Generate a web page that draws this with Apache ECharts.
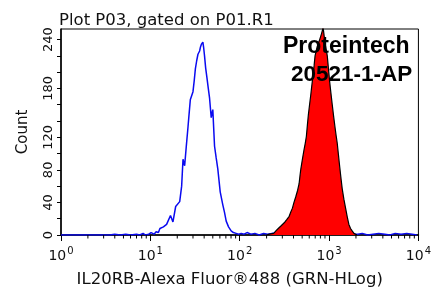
<!DOCTYPE html>
<html>
<head>
<meta charset="utf-8">
<script src="https://cdn.jsdelivr.net/npm/echarts@6/dist/echarts.min.js"></script>
<style>
  html, body { margin: 0; padding: 0; background: #fff; }
  #main { width: 434px; height: 293px; }
</style>
</head>
<body>
<div id="main"></div>
<script>
// isotype control (blue outline), [fluorescence, count]
var controlCounts = [
  [1, 0], [3.5, 0], [4, 1], [4.6, 0], [5.3, 1], [6, 0], [7, 1], [7.6, 0],
  [8.3, 2], [8.8, 0], [9.6, 1], [10.2, 3], [11, 1], [11.6, 4], [12.3, 3],
  [12.8, 8], [14, 10], [15.2, 13], [15.8, 15], [16.8, 24], [17.9, 16],
  [19.2, 35], [21.3, 41], [22.4, 60], [23.2, 93], [24.2, 85], [25.3, 110],
  [26.4, 133], [27.2, 150], [28, 166], [30, 176], [31, 190], [31.9, 204],
  [33, 214], [34.1, 222], [35.6, 226], [36.4, 231], [37.2, 234],
  [38.7, 237], [39.5, 230], [40.4, 220], [41.6, 205], [42.9, 194],
  [44.5, 180], [46, 168], [48, 144], [49, 150], [50, 154], [52.3, 109],
  [54.5, 95], [56.9, 81], [60.5, 53], [64.7, 37], [67.5, 28], [70.6, 17],
  [75, 10], [80.2, 5], [85, 3], [91.2, 2], [97, 1], [104, 2], [112, 1],
  [121, 3], [133, 1], [148, 2], [165, 0], [185, 2], [205, 1], [230, 2],
  [2100, 1], [2350, 2], [2700, 0], [3100, 1], [3600, 2], [4200, 1],
  [4800, 0], [5500, 2], [6400, 1], [7400, 2], [8500, 1], [9600, 0]
];

// IL20RB stained sample (red filled)
var sampleCounts = [
  [200, 0], [215, 1], [224, 0], [240, 2], [254, 5], [270, 8], [289, 11],
  [302, 13], [315, 15], [336, 19], [358, 23], [372, 28], [389, 33],
  [405, 40], [424, 47], [445, 55], [462, 63], [472, 72], [483, 81],
  [503, 93], [525, 105], [540, 112], [557, 121], [572, 135], [587, 148],
  [605, 160], [624, 172], [642, 184], [662, 196], [680, 208], [697, 220],
  [718, 226], [739, 232], [762, 236], [785, 240], [806, 244], [827, 248],
  [845, 252], [855, 256], [878, 246], [900, 236], [928, 228], [955, 220],
  [985, 204], [1016, 188], [1050, 174], [1086, 160], [1124, 146],
  [1164, 133], [1200, 122], [1234, 113], [1272, 99], [1312, 85],
  [1355, 71], [1403, 57], [1465, 44], [1531, 33], [1600, 22], [1667, 13],
  [1740, 8], [1813, 5], [1900, 2], [1977, 1], [2050, 0]
];

var yLabelValues = [0, 40, 80, 120, 180, 240];
var minorTickValues = [
  2, 3, 4, 5, 6, 7, 8, 9,
  20, 30, 40, 50, 60, 70, 80, 90,
  200, 300, 400, 500, 600, 700, 800, 900,
  2000, 3000, 4000, 5000, 6000, 7000, 8000, 9000
];

var chart = echarts.init(document.getElementById("main"), null, { renderer: "canvas" });

var option = {
  animation: false,
  backgroundColor: "#fff",
  textStyle: { fontFamily: "DejaVu Sans", color: "#000" },
  title: {
    text: "Plot P03, gated on P01.R1",
    left: 54,
    top: 7,
    textStyle: { fontFamily: "DejaVu Sans", fontSize: 16.5, fontWeight: "normal", color: "#111" }
  },
  graphic: [
    {
      type: "text",
      left: 283,
      top: 35,
      z: 100,
      style: { text: "Proteintech", font: "bold 23px 'Liberation Sans', Arial", fill: "#000" }
    },
    {
      type: "text",
      left: 291,
      top: 63,
      z: 100,
      style: { text: "20521-1-AP", font: "bold 22.5px 'Liberation Sans', Arial", fill: "#000" }
    }
  ],
  grid: {
    left: 61,
    right: 14,
    top: 29,
    bottom: 52,
    show: true,
    borderColor: "#000",
    borderWidth: 1,
    backgroundColor: "transparent"
  },
  xAxis: {
    type: "log",
    logBase: 10,
    min: 1,
    max: 10000,
    name: "IL20RB-Alexa Fluor®488 (GRN-HLog)",
    nameLocation: "middle",
    nameGap: 36,
    nameTextStyle: { fontFamily: "DejaVu Sans", fontSize: 16.5, color: "#111", padding: [0, 20, 0, 0] },
    axisLine: { show: true, lineStyle: { color: "#000", width: 1.5 } },
    axisTick: { show: true, inside: false, length: 6, lineStyle: { color: "#000" } },
    minorTick: { show: false },
    splitLine: { show: false },
    axisLabel: {
      margin: 13,
      formatter: function (v) {
        return "{b|10}{s|" + Math.round(Math.log10(v)) + "}";
      },
      rich: {
        b: { fontFamily: "DejaVu Sans", fontSize: 14, lineHeight: 16, color: "#111" },
        s: { fontFamily: "DejaVu Sans", fontSize: 10, lineHeight: 10, padding: [0, 0, 9, 1], color: "#111" }
      }
    }
  },
  yAxis: {
    type: "value",
    min: 0,
    max: 253,
    interval: 20,
    name: "Count",
    nameLocation: "middle",
    nameGap: 30,
    nameTextStyle: { fontFamily: "DejaVu Sans", fontSize: 15, color: "#111" },
    axisLine: { show: true, lineStyle: { color: "#000", width: 1.5 } },
    axisTick: { show: true, inside: false, length: 4, lineStyle: { color: "#000" } },
    splitLine: { show: false },
    axisLabel: {
      rotate: 90,
      margin: 6,
      fontFamily: "DejaVu Sans",
      fontSize: 13,
      color: "#111",
      showMaxLabel: false,
      formatter: function (v) {
        return yLabelValues.indexOf(v) >= 0 ? String(v) : "";
      }
    }
  },
  series: [
    {
      name: "Control",
      type: "line",
      data: controlCounts,
      symbol: "none",
      clip: true,
      lineStyle: { color: "#0a0af0", width: 1.5 },
      z: 2
    },
    {
      name: "IL20RB",
      type: "line",
      data: sampleCounts,
      symbol: "none",
      clip: true,
      lineStyle: { color: "#000", width: 1.2 },
      areaStyle: { color: "#ff0000", opacity: 1 },
      z: 3
    },
    {
      name: "minor ticks",
      type: "custom",
      silent: true,
      clip: false,
      data: minorTickValues.map(function (v) { return [v, 0]; }),
      renderItem: function (params, api) {
        var p = api.coord([api.value(0), 0]);
        return {
          type: "line",
          shape: { x1: p[0], y1: p[1], x2: p[0], y2: p[1] + 3.5 },
          style: { stroke: "#000", lineWidth: 1 }
        };
      },
      z: 5
    }
  ]
};

chart.setOption(option);
</script>
</body>
</html>
